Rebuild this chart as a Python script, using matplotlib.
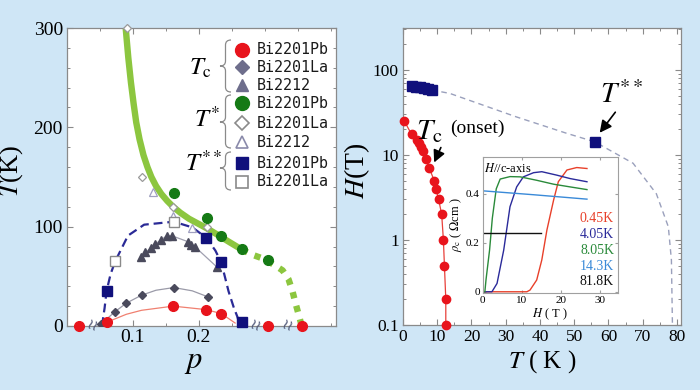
import matplotlib
matplotlib.use('Agg')
import matplotlib.pyplot as plt
from matplotlib.lines import Line2D
from matplotlib.path import Path
from matplotlib.patches import PathPatch, FancyArrowPatch
import matplotlib.transforms as mtransforms
from matplotlib.ticker import MultipleLocator, FixedLocator, LogLocator, NullFormatter

plt.rcParams['font.family'] = ['Liberation Serif', 'DejaVu Serif']
plt.rcParams['mathtext.fontset'] = 'stix'

# ---------------- data: left panel (doping phase diagram) ----------------
tc_pb_p = [0.018, 0.060, 0.161, 0.211, 0.234, 0.305, 0.356]
tc_pb_T = [0, 3.7, 20, 16.5, 12.5, 0, 0]
tc_pb_line_p = [0.052, 0.060, 0.090, 0.113, 0.161, 0.211, 0.234, 0.255]
tc_pb_line_T = [0, 3.7, 11.8, 15.8, 20, 16.5, 12.5, 3]

tc_la_p = [0.051, 0.073, 0.090, 0.113, 0.162, 0.214]
tc_la_T = [1.7, 14.5, 23, 31, 38.7, 29.3]
tc_la_line_p = [0.051, 0.073, 0.090, 0.113, 0.135, 0.162, 0.190, 0.214]
tc_la_line_T = [1.7, 14.5, 23, 31, 36, 38.7, 35.4, 29.3]

tc_2212_p = [0.112, 0.119, 0.127, 0.134, 0.142, 0.151, 0.160, 0.183, 0.188, 0.194, 0.228]
tc_2212_T = [69, 74, 78.5, 82.5, 86.5, 90.6, 90.6, 85, 81.8, 79.8, 59]

ts_pb_p = [0.163, 0.212, 0.234, 0.265, 0.305]
ts_pb_T = [134, 108.8, 91, 77.5, 66.7]
ts_la_p = [0.0914, 0.114, 0.161, 0.213]
ts_la_T = [300, 150.5, 120, 100]
ts_2212_p = [0.131, 0.161, 0.190]
ts_2212_T = [134.7, 111, 98.6]

tss_pb_p = [0.060, 0.211, 0.234, 0.265]
tss_pb_T = [35.4, 89, 64, 4.4]
tss_la_p = [0.073, 0.162]
tss_la_T = [65, 105]

tss_line_p = [0.053, 0.057, 0.060, 0.066, 0.073, 0.0925, 0.117, 0.162, 0.190,
              0.211, 0.225, 0.234, 0.245, 0.253, 0.258, 0.263]
tss_line_T = [0, 18, 35, 52, 65, 91, 102, 105, 99.3, 89, 76, 64, 35, 18.5, 10, 0]

ts_curve_p = [0.089, 0.093, 0.097, 0.101, 0.105, 0.110, 0.116, 0.122, 0.128, 0.135,
              0.143, 0.152, 0.161, 0.172, 0.185, 0.199, 0.213, 0.228, 0.245, 0.265]
ts_curve_T = [300, 270, 245, 224, 205, 188, 172, 160, 150, 141,
              133, 126, 120, 114, 108, 103, 98, 92, 85, 77]
ts_dot_p = [0.265, 0.280, 0.298, 0.313, 0.327, 0.336, 0.342, 0.347, 0.352, 0.356]
ts_dot_T = [77, 72, 67.7, 62, 56, 47, 35, 22, 10, 0]

break_p = [0.039, 0.286, 0.334]

# ---------------- data: right panel (field vs temperature) ----------------
hc_T = [0.4, 2.5, 4.0, 4.8, 5.3, 5.9, 6.7, 7.7, 9.1, 9.6, 10.4, 11.3, 11.8, 12.1, 12.5, 12.5]
hc_H = [25, 17.5, 15, 14, 12.5, 11, 9, 7, 5, 4, 3, 2, 1, 0.5, 0.2, 0.1]
hss_T = [2.5, 3.8, 5.0, 6.1, 7.2, 8.4, 56]
hss_H = [64.8, 63.7, 62.6, 61.9, 60.3, 58.2, 14.3]
hguide_T = [8.4, 13.7, 33.2, 47.8, 56, 67.2, 74, 77.5, 78.4, 78.7]
hguide_H = [58.2, 53, 28, 18, 14.3, 8, 3.5, 1.43, 0.58, 0.1]

# ---------------- data: inset (rho_c vs H) ----------------
ins_labels = ['0.45K', '4.05K', '8.05K', '14.3K', '81.8K']
ins_colors = ['#e8402a', '#2a2a9a', '#2a8a3a', '#3a8ad8', '#111111']
r045_H = [0, 11.3, 12.1, 13.8, 15.1, 16.4, 18.1, 19.3, 21.5, 24.0, 26.6]
r045_r = [0, 0, 0.007, 0.048, 0.130, 0.252, 0.374, 0.449, 0.497, 0.507, 0.503]
r405_H = [0, 2.4, 3.7, 5.4, 7.0, 8.7, 10.4, 13.0, 15.1, 18.9, 22.3, 26.6]
r405_r = [0, 0, 0.034, 0.170, 0.347, 0.428, 0.469, 0.486, 0.490, 0.476, 0.462, 0.449]
r805_H = [0, 0.6, 0.9, 1.8, 2.5, 3.5, 4.5, 7.0, 9.6, 13.8, 18.1, 22.3, 26.6]
r805_r = [0, 0, 0.05, 0.17, 0.30, 0.42, 0.46, 0.470, 0.469, 0.455, 0.439, 0.428, 0.417]
r143_H = [0, 13.0, 26.6]
r143_r = [0.412, 0.396, 0.378]
r818_H = [0, 14.9]
r818_r = [0.238, 0.238]

W, H = 700, 390
fig = plt.figure(figsize=(W / 100, H / 100), dpi=100)
bg = '#cfe6f6'
fig.patch.set_facecolor(bg)
PX = mtransforms.Affine2D().scale(1 / W, -1 / H).translate(0, 1) + fig.transFigure

def box(x0, y0, x1, y1):
    return [x0 / W, 1 - y1 / H, (x1 - x0) / W, (y1 - y0) / H]

frame_c = '#8a8a8a'

def style_axes(ax, lsize):
    for s in ax.spines.values():
        s.set_color(frame_c)
        s.set_linewidth(0.9)
    ax.tick_params(which='both', direction='in', top=True, right=True, colors=frame_c,
                   labelcolor='black', labelsize=lsize)
    ax.tick_params(which='major', length=4.5, width=0.8)
    ax.tick_params(which='minor', length=2.5, width=0.7)

# ================= left panel =================
ax = fig.add_axes(box(67, 28, 336, 326))
style_axes(ax, 14)
ax.set_xlim(0, 0.408)
ax.set_ylim(0, 300)
ax.xaxis.set_major_locator(FixedLocator([0.1, 0.2]))
ax.xaxis.set_minor_locator(MultipleLocator(0.05))
ax.yaxis.set_major_locator(MultipleLocator(100))
ax.yaxis.set_minor_locator(MultipleLocator(20))
ax.set_xticklabels(['0.1', '0.2'])
ax.tick_params(axis='x', pad=2.5)
ax.tick_params(axis='y', pad=3)

green_l = '#8cc63f'
ax.plot(ts_curve_p, ts_curve_T, color=green_l, lw=4.6, solid_capstyle='butt',
        solid_joinstyle='round', zorder=2, clip_on=False)
ax.plot(ts_dot_p, ts_dot_T, color=green_l, lw=4.6, ls=(0, (1.0, 1.2)), dash_capstyle='butt', zorder=2, clip_on=False)
ax.plot(tc_pb_line_p, tc_pb_line_T, color='#f08070', lw=0.9, zorder=2)
ax.plot(tc_la_line_p, tc_la_line_T, color='#9a9aa8', lw=0.9, zorder=2)
ax.plot(tc_2212_p, tc_2212_T, color='#a0a0b0', lw=0.9, zorder=2)
ax.plot(tss_line_p, tss_line_T, color='#2a2a96', lw=1.6, ls=(0, (4, 2.2)), zorder=2)

dark = '#4a4a5c'
ax.plot(ts_la_p, ts_la_T, 'D', ms=4.5, mfc='white', mec='#9a9a9a', mew=0.9, ls='none', zorder=3, clip_on=False)
ax.plot(ts_2212_p, ts_2212_T, '^', ms=5.5, mfc='white', mec='#a0a0c0', mew=0.9, ls='none', zorder=3)
ax.plot(tc_la_p, tc_la_T, 'D', ms=4.5, color=dark, ls='none', zorder=4)
ax.plot(tc_2212_p, tc_2212_T, '^', ms=5.5, color=dark, ls='none', zorder=4)
ax.plot(tss_la_p, tss_la_T, 's', ms=7, mfc='white', mec='#8a8a8a', mew=1.0, ls='none', zorder=4)
ax.plot(ts_pb_p, ts_pb_T, 'o', ms=7, color='#157a15', ls='none', zorder=5)
ax.plot(tss_pb_p, tss_pb_T, 's', ms=7.5, color='#10107c', ls='none', zorder=5, clip_on=False)
ax.plot(tc_pb_p, tc_pb_T, 'o', ms=7, color='#e8141c', ls='none', zorder=6, clip_on=False)

for bp in break_p:
    ax.text(bp, 0, '\u2240\u2240', fontsize=11, color='#505878', ha='center', va='center',
            family='DejaVu Sans', zorder=7, clip_on=False, rotation=-20)

ax.set_ylabel(r'$T$(K)', fontsize=19)
ax.yaxis.set_label_coords(-0.155, 0.52)
ax.set_xlabel(r'$p$', fontsize=22)
ax.xaxis.set_label_coords(0.47, -0.072)

# legend (manual, with braces)
rows_y = [50, 67.3, 85, 103.3, 123.3, 142.3, 163.3, 181.7]
names = ['Bi2201Pb', 'Bi2201La', 'Bi2212', 'Bi2201Pb', 'Bi2201La', 'Bi2212', 'Bi2201Pb', 'Bi2201La']
leg_styles = [
    dict(marker='o', ms=10, mfc='#e8141c', mec='#e8141c'),
    dict(marker='D', ms=7.5, mfc='#6e6e8c', mec='#6e6e8c'),
    dict(marker='^', ms=9, mfc='#6e6e8c', mec='#6e6e8c'),
    dict(marker='o', ms=10, mfc='#157a15', mec='#157a15'),
    dict(marker='D', ms=7.5, mfc='white', mec='#8a8a8a', mew=1.2),
    dict(marker='^', ms=9, mfc='white', mec='#8a8aaa', mew=1.2),
    dict(marker='s', ms=8.5, mfc='#10107c', mec='#10107c'),
    dict(marker='s', ms=8.5, mfc='white', mec='#8a8a8a', mew=1.2),
]
for yy, nm, st in zip(rows_y, names, leg_styles):
    fig.add_artist(Line2D([241.7], [yy], transform=PX, ls='none', **st))
    fig.text(256.5 / W, 1 - yy / H, nm, transform=fig.transFigure, fontsize=10.8,
             family='DejaVu Sans Mono', va='center', ha='left', color='#1a1a1a')

def brace(xr, xl, yt, yb, ytip, r=5):
    xm = (xr + xl) / 2
    verts = [(xr, yt), (xm, yt), (xm, yt + r), (xm, ytip - r), (xm, ytip), (xl, ytip),
             (xm, ytip), (xm, ytip + r), (xm, yb - r), (xm, yb), (xr, yb)]
    codes = [Path.MOVETO, Path.CURVE3, Path.CURVE3, Path.LINETO, Path.CURVE3, Path.CURVE3,
             Path.CURVE3, Path.CURVE3, Path.LINETO, Path.CURVE3, Path.CURVE3]
    fig.add_artist(PathPatch(Path(verts, codes), transform=PX, fill=False, ec='#8a8a8a', lw=0.9))

brace(231, 220, 40, 92, 66)
brace(231, 220, 95, 148, 122)
brace(231, 220, 152, 190, 168)
fig.text(201 / W, 1 - 68 / H, r'$T_{\rm c}$', fontsize=18, ha='center', va='center')
fig.text(207 / W, 1 - 119 / H, r'$T^{*}$', fontsize=18, ha='center', va='center')
fig.text(204 / W, 1 - 163 / H, r'$T^{**}$', fontsize=18, ha='center', va='center')

# ================= right panel =================
ax2 = fig.add_axes(box(403, 28, 681, 325))
style_axes(ax2, 12.5)
ax2.set_yscale('log')
ax2.set_xlim(0, 81.2)
ax2.set_ylim(0.1, 312)
ax2.xaxis.set_major_locator(MultipleLocator(10))
ax2.xaxis.set_minor_locator(MultipleLocator(5))
ax2.yaxis.set_major_locator(FixedLocator([0.1, 1, 10, 100]))
ax2.set_yticklabels(['0.1', '1', '10', '100'])
ax2.yaxis.set_minor_locator(LogLocator(base=10, subs=range(2, 10)))
ax2.yaxis.set_minor_formatter(NullFormatter())
ax2.tick_params(axis='x', pad=3)
ax2.tick_params(axis='y', pad=3)

ax2.plot(hguide_T, hguide_H, color='#9aa0bc', lw=1.0, ls=(0, (4, 3)), zorder=2)
ax2.plot(hc_T, hc_H, color='#e8403a', lw=0.9, zorder=3)
ax2.plot(hc_T, hc_H, 'o', ms=6, color='#e8141c', ls='none', zorder=4, clip_on=False)
ax2.plot(hss_T, hss_H, 's', ms=6.5, color='#10107c', ls='none', zorder=4)

ax2.set_ylabel(r'$H$(T)', fontsize=20)
ax2.yaxis.set_label_coords(-0.11, 0.52)
ax2.set_xlabel(r'$T$ ( K )', fontsize=18, labelpad=2)

fig.text(429 / W, 1 - 132 / H, r'$T_{\rm c}$', fontsize=21, ha='center', va='center')
fig.text(450 / W, 1 - 128 / H, '(onset)', fontsize=14, ha='left', va='center')
fig.text(622 / W, 1 - 95 / H, r'$T^{**}$', fontsize=21, ha='center', va='center')
fig.add_artist(FancyArrowPatch((617 / W, 1 - 110 / H), (598 / W, 1 - 135 / H),
                               transform=fig.transFigure, mutation_scale=12,
                               arrowstyle='-|>,head_length=0.6,head_width=0.3', color='black', lw=1.2))
fig.add_artist(FancyArrowPatch((442 / W, 1 - 145 / H), (433 / W, 1 - 165 / H),
                               transform=fig.transFigure, mutation_scale=12,
                               arrowstyle='-|>,head_length=0.6,head_width=0.3', color='black', lw=1.2))

# ================= inset =================
ax3 = fig.add_axes(box(482.5, 157, 618, 293))
for s in ax3.spines.values():
    s.set_color('#a0a0a0')
    s.set_linewidth(0.8)
ax3.tick_params(which='both', direction='in', top=True, right=True, colors='#a0a0a0',
                labelcolor='black', labelsize=8, length=2.5, pad=2)
ax3.set_xlim(0, 34.5)
ax3.set_ylim(-0.005, 0.55)
ax3.xaxis.set_major_locator(MultipleLocator(10))
ax3.yaxis.set_major_locator(FixedLocator([0, 0.2, 0.4]))
ax3.set_yticklabels(['0', '0.2', '0.4'])
ins_H = [r045_H, r405_H, r805_H, r143_H, r818_H]
ins_r = [r045_r, r405_r, r805_r, r143_r, r818_r]
for hh, rr, c in zip(ins_H, ins_r, ins_colors):
    ax3.plot(hh, rr, color=c, lw=1.0)
for i, (lab, c) in enumerate(zip(ins_labels, ins_colors)):
    ax3.text(33.5, 0.30 - i * 0.065, lab, color=c, fontsize=10, ha='right', va='center')
ax3.text(0.5, 0.53, r'$H$//c-axis', fontsize=9, ha='left', va='top')
ax3.set_xlabel(r'$H$ ( T )', fontsize=9, labelpad=1)
ax3.set_ylabel(r'$\rho_{\rm c}$ ( $\Omega$cm )', fontsize=9, labelpad=1)

fig.savefig('out.png', dpi=100, facecolor=bg)
